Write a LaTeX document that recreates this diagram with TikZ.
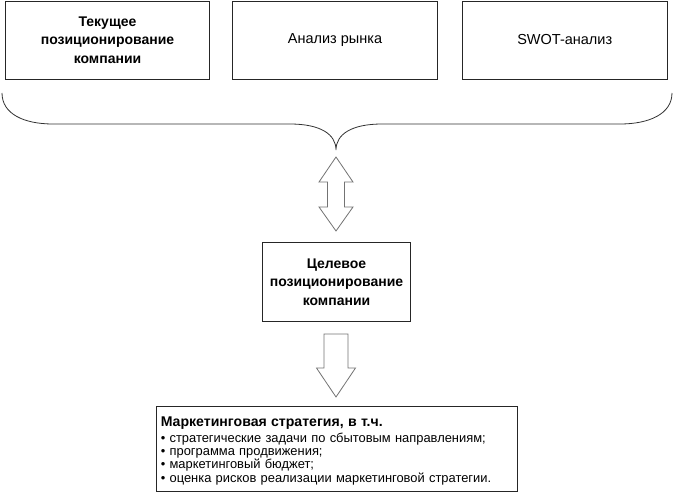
\documentclass[tikz,border=0pt]{standalone}
\usepackage{fontspec}
\setmainfont{Liberation Sans}
\begin{document}
\begin{tikzpicture}[x=1pt,y=-1pt,
  box/.style={draw=black!85, line width=0.8pt, minimum height=78pt, align=center, inner sep=0pt},
  topbox/.style={box, minimum width=204.5pt},
  boldtxt/.style={font=\fontsize{14}{18.5}\selectfont\bfseries},
  regtxt/.style={font=\fontsize{14.5}{18}\selectfont},
  listbox/.style={draw=black!85, line width=0.8pt, minimum width=361pt, minimum height=84.5pt, inner sep=0pt},
  listtext/.style={anchor=north west, inner sep=0pt, text width=355pt, align=left,
    font=\fontsize{12.9}{13.4}\selectfont},
  blockarrow/.style={draw=black!55, line width=0.8pt, fill=white, line join=miter},
  bracestyle/.style={draw=black!80, line width=0.8pt}]
\useasboundingbox (0,0) rectangle (673,495);
% top boxes
\node[topbox,boldtxt] (t1) at (107.5,40) {Текущее\\позиционирование\\компании};
\node[topbox,regtxt] (t2) at (335,40) {Анализ рынка};
\node[topbox,regtxt] (t3) at (564.75,40) {SWOT-анализ};
% centre box
\node[box,boldtxt,minimum width=148pt,minimum height=78.5pt] (c) at (336.5,282) {Целевое\\позиционирование\\компании};
% bottom box
\node[listbox] (m) at (336.5,449) {};
\node[listtext] (mt) at ([xshift=5pt,yshift=-10pt]m.north west) {{\fontsize{14.1}{16}\selectfont\bfseries Маркетинговая стратегия, в т.ч.}\\[2.4pt]
• стратегические задачи по сбытовым направлениям;\\
• программа продвижения;\\
• маркетинговый бюджет;\\
• оценка рисков реализации маркетинговой стратегии.};
% brace
\coordinate (tip) at (336,150);
\draw[bracestyle] (2,93) .. controls (2,114) and (24,124) .. (53,124) -- (290,124)
  .. controls (320,124) and (336,134) .. (tip)
  .. controls (336,134) and (352,124) .. (382,124) -- (620,124)
  .. controls (649,124) and (672,114) .. (672,93);
% double arrow between brace and centre box
\coordinate (da) at (336,157);
\coordinate (db) at (336,231);
\draw[blockarrow] (da) -- ++(17,25) -- ++(-8.5,0) -- ++(0,25) -- ++(8.5,0) -- (db)
  -- ++(-17,-24) -- ++(8.5,0) -- ++(0,-25) -- ++(-8.5,0) -- cycle;
% down arrow from centre box to bottom box
\coordinate (sa) at (336,334);
\coordinate (sb) at (336,397);
\draw[blockarrow] ([xshift=-12pt]sa) -- ([xshift=12pt]sa) -- ++(0,34) -- ++(7.5,0) -- (sb)
  -- ++(-19.5,-29) -- ++(7.5,0) -- cycle;
\end{tikzpicture}
\end{document}
